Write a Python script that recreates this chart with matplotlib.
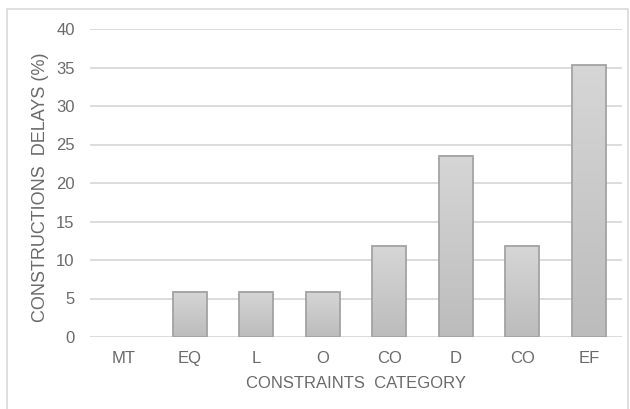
import numpy as np
import matplotlib
matplotlib.use("Agg")
import matplotlib.pyplot as plt
from matplotlib.patches import Rectangle

categories = ["MT", "EQ", "L", "O", "CO", "D", "CO", "EF"]
delays_pct = [0.0, 5.88, 5.88, 5.88, 11.76, 23.53, 11.76, 35.29]
y_ticks = [0, 5, 10, 15, 20, 25, 30, 35, 40]

plt.rcParams["font.family"] = ["Liberation Sans", "DejaVu Sans"]
text_color = "#6a6a6a"

W, H = 630, 409
fig = plt.figure(figsize=(W / 100, H / 100), dpi=100)

# outer chart frame
fig.patches.append(Rectangle((7 / W, -0.05), (W - 9) / W, 1.05 - 9 / H,
                             transform=fig.transFigure, fill=False,
                             edgecolor="#d9d9d9", linewidth=1.2))

ax = fig.add_axes([90 / W, 1 - 337 / H, (622 - 90) / W, (337 - 29) / H])
x = np.arange(len(categories))
bar_w = 0.51

grad = np.linspace(0, 1, 256).reshape(-1, 1)
cmap = matplotlib.colors.LinearSegmentedColormap.from_list(
    "bar_grad", ["#bcbcbc", "#d6d6d6"])

for xi, v in zip(x, delays_pct):
    if v <= 0:
        continue
    left, right = xi - bar_w / 2, xi + bar_w / 2
    ax.imshow(grad, extent=[left, right, 0, v], origin="lower",
              cmap=cmap, aspect="auto", zorder=2)
    ax.add_patch(Rectangle((left, 0), bar_w, v, fill=False,
                           edgecolor="#a3a3a3", linewidth=1.3, zorder=3))

ax.set_xlim(-0.5, len(categories) - 0.5)
ax.set_ylim(0, 40)
ax.set_yticks(y_ticks)
ax.set_xticks(x)
ax.set_xticklabels(categories)
ax.grid(axis="y", color="#d9d9d9", linewidth=1.3, zorder=0)
ax.set_axisbelow(True)
for s in ax.spines.values():
    s.set_visible(False)
ax.tick_params(axis="both", length=0, colors=text_color, labelsize=12)
ax.tick_params(axis="x", pad=10)
ax.tick_params(axis="y", pad=11)
ax.set_xlabel("CONSTRAINTS  CATEGORY", color=text_color, fontsize=12, labelpad=7)
ax.set_ylabel("CONSTRUCTIONS  DELAYS (%)", color=text_color, fontsize=13,
              va="center", ha="center")
ax.yaxis.set_label_coords(41 / W, 1 - 187 / H, transform=fig.transFigure)

fig.savefig("out.png", dpi=100)
